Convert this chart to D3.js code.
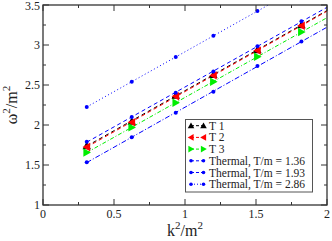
<!DOCTYPE html>
<html><head><meta charset="utf-8">
<script src="https://cdn.jsdelivr.net/npm/d3@7"></script>
<style>body{margin:0;background:#fff}svg{display:block}
svg text{font-family:"Liberation Serif","Times New Roman","DejaVu Serif",serif !important}</style>
</head><body>
<svg id="c" width="332" height="241"></svg>
<script>
const kValues = [0.308, 0.625, 0.935, 1.2, 1.51, 1.82];
const t1 = [1.74, 2.045, 2.37, 2.63, 2.94, 3.25];
const t2 = [1.725, 2.033, 2.36, 2.62, 2.93, 3.24];
const t3 = [1.657, 1.97, 2.279, 2.541, 2.854, 3.163];
const thermal136 = [1.791, 2.1, 2.404, 2.67, 2.984, 3.296];
const thermal193 = [1.534, 1.846, 2.154, 2.416, 2.738, 3.043];
const thermal286 = [2.225, 2.541, 2.85, 3.116, 3.425, 3.73];
const xTicks = [0, 0.5, 1, 1.5, 2];
const yTicks = [1, 1.5, 2, 2.5, 3, 3.5];
const legendLabels = ["T 1", "T 2", "T 3", "Thermal, T/m = 1.36", "Thermal, T/m = 1.93", "Thermal, T/m = 2.86"];

const series = [
  {vals: t1, color: "#000", marker: "up", dash: "4,3", label: legendLabels[0]},
  {vals: t2, color: "#ff0000", marker: "left", dash: "4,3", label: legendLabels[1]},
  {vals: t3, color: "#00ee00", marker: "right", dash: "4,2,1,2", label: legendLabels[2]},
  {vals: thermal136, color: "#0000ff", marker: "circle", dash: "4,3", label: legendLabels[3]},
  {vals: thermal193, color: "#0000ff", marker: "circle", dash: "5,2,1,2", label: legendLabels[4]},
  {vals: thermal286, color: "#0000ff", marker: "circle", dash: "1,2.5", label: legendLabels[5]}
];

const svg = d3.select("#c");
const L = 43, R = 327, T = 5, B = 205;
const x = d3.scaleLinear().domain([0, 2]).range([L, R]);
const y = d3.scaleLinear().domain([1, 3.5]).range([B, T]);

svg.append("defs").append("clipPath").attr("id", "clip")
  .append("rect").attr("x", L).attr("y", T).attr("width", R - L).attr("height", B - T);

function fit(vals) {
  const n = vals.length;
  const mx = d3.mean(kValues), my = d3.mean(vals);
  let sxy = 0, sxx = 0;
  for (let i = 0; i < n; i++) { sxy += (kValues[i] - mx) * (vals[i] - my); sxx += (kValues[i] - mx) ** 2; }
  const b = sxy / sxx; return [b, my - b * mx];
}

function markerPath(type, cx, cy, s) {
  if (type === "up") return `M${cx},${cy - s}L${cx + s},${cy + s * 0.8}L${cx - s},${cy + s * 0.8}Z`;
  if (type === "left") return `M${cx - s},${cy}L${cx + s * 0.8},${cy - s}L${cx + s * 0.8},${cy + s}Z`;
  if (type === "right") return `M${cx + s},${cy}L${cx - s * 0.8},${cy - s}L${cx - s * 0.8},${cy + s}Z`;
  return null;
}

const plot = svg.append("g").attr("clip-path", "url(#clip)");
series.forEach(s => {
  const [b, a] = fit(s.vals);
  const x0 = kValues[0], x1 = 2.2;
  plot.append("line")
    .attr("x1", x(x0)).attr("y1", y(a + b * x0))
    .attr("x2", x(x1)).attr("y2", y(a + b * x1))
    .attr("stroke", s.color).attr("stroke-width", 1).attr("stroke-dasharray", s.dash);
});
series.forEach(s => {
  s.vals.forEach((v, i) => {
    const cx = x(kValues[i]), cy = y(v);
    if (s.marker === "circle") {
      plot.append("circle").attr("cx", cx).attr("cy", cy).attr("r", 2).attr("fill", s.color);
    } else {
      plot.append("path").attr("d", markerPath(s.marker, cx, cy, 4.2)).attr("fill", s.color);
    }
  });
});

// frame and ticks
const axisColor = "#333";
svg.append("rect").attr("x", L).attr("y", T).attr("width", R - L).attr("height", B - T)
  .attr("fill", "none").attr("stroke", axisColor).attr("stroke-width", 1.3);
const minorX = d3.range(0, 2.001, 0.25), minorY = d3.range(1, 3.501, 0.25);
minorX.forEach(v => {
  const major = Math.abs(v * 2 - Math.round(v * 2)) < 1e-6;
  const len = major ? 6 : 3;
  svg.append("line").attr("x1", x(v)).attr("x2", x(v)).attr("y1", B).attr("y2", B - len).attr("stroke", axisColor);
  svg.append("line").attr("x1", x(v)).attr("x2", x(v)).attr("y1", T).attr("y2", T + len).attr("stroke", axisColor);
});
minorY.forEach(v => {
  const major = Math.abs(v * 2 - Math.round(v * 2)) < 1e-6;
  const len = major ? 6 : 3;
  svg.append("line").attr("y1", y(v)).attr("y2", y(v)).attr("x1", L).attr("x2", L + len).attr("stroke", axisColor);
  svg.append("line").attr("y1", y(v)).attr("y2", y(v)).attr("x1", R).attr("x2", R - len).attr("stroke", axisColor);
});
xTicks.forEach(v => {
  svg.append("text").attr("x", x(v)).attr("y", B + 13).attr("text-anchor", "middle")
    .attr("font-size", 12).attr("fill", "#222").text(d3.format("")(v));
});
yTicks.forEach(v => {
  svg.append("text").attr("x", L - 3).attr("y", Math.max(y(v) + 4, 9.5)).attr("text-anchor", "end")
    .attr("font-size", 12).attr("fill", "#222").text(d3.format("")(v));
});

// axis titles
const xt = svg.append("text").attr("x", 185).attr("y", 236).attr("text-anchor", "middle").attr("font-size", 16).attr("fill", "#222");
xt.append("tspan").text("k");
xt.append("tspan").attr("dy", -7).attr("font-size", 11).text("2");
xt.append("tspan").attr("dy", 7).text("/m");
xt.append("tspan").attr("dy", -7).attr("font-size", 11).text("2");
const yt = svg.append("text").attr("transform", "translate(17,105) rotate(-90)").attr("text-anchor", "middle").attr("font-size", 16).attr("fill", "#222");
yt.append("tspan").text("ω");
yt.append("tspan").attr("dy", -7).attr("font-size", 11).text("2");
yt.append("tspan").attr("dy", 7).text("/m");
yt.append("tspan").attr("dy", -7).attr("font-size", 11).text("2");

// legend
const lg = svg.append("g");
lg.append("rect").attr("x", 185.5).attr("y", 119.5).attr("width", 127).attr("height", 72.5)
  .attr("fill", "#fff").attr("stroke", "#555").attr("stroke-width", 1);
series.forEach((s, i) => {
  const ly = 125.7 + i * 11.7;
  lg.append("line").attr("x1", 191).attr("x2", 203.5).attr("y1", ly).attr("y2", ly)
    .attr("stroke", s.color).attr("stroke-dasharray", s.dash === "1,2.5" ? "1,2" : "3,2");
  [191, 203.5].forEach(cx => {
    if (s.marker === "circle") lg.append("circle").attr("cx", cx).attr("cy", ly).attr("r", 1.8).attr("fill", s.color);
    else lg.append("path").attr("d", markerPath(s.marker, cx, ly, 3.3)).attr("fill", s.color);
  });
  lg.append("text").attr("x", 209).attr("y", ly + 4).attr("font-size", 11.5).attr("fill", "#222").text(s.label);
});
</script>
</body></html>
